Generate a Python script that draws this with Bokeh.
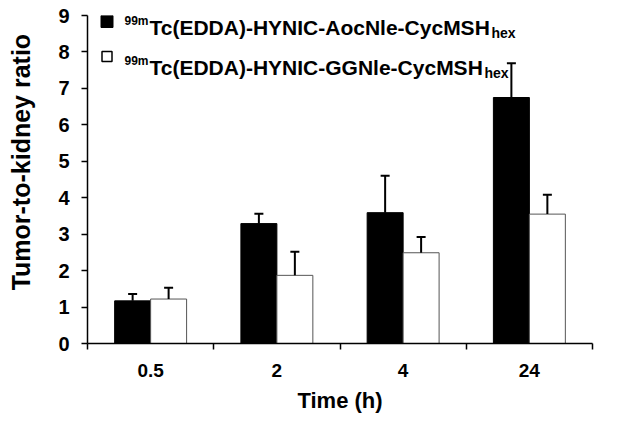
from bokeh.plotting import figure
from bokeh.models import Range1d, FixedTicker, Whisker, TeeHead, ColumnDataSource, Label
from bokeh.embed import file_html
from bokeh.resources import INLINE

# ---- data ----
time_labels = ["0.5", "2", "4", "24"]
aoc_values = [1.17, 3.29, 3.59, 6.75]
aoc_errors = [0.19, 0.27, 1.01, 0.94]
ggn_values = [1.22, 1.87, 2.49, 3.55]
ggn_errors = [0.31, 0.65, 0.43, 0.53]
series_names = ["Tc(EDDA)-HYNIC-AocNle-CycMSH", "Tc(EDDA)-HYNIC-GGNle-CycMSH"]
sup_text = "99m"
sub_text = "hex"
y_title = "Tumor-to-kidney ratio"
x_title = "Time (h)"

FONT = "Liberation Sans"
BAR_W = 0.285

n = len(time_labels)
centers = [i + 0.5 for i in range(n)]
x_aoc = [c - BAR_W / 2 for c in centers]
x_ggn = [c + BAR_W / 2 for c in centers]

FL, FT, FR, FB = 87, 15, 592, 343  # frame edges on the page
W, H = 624, 425

p = figure(width=W, height=H,
           x_range=Range1d(0, n), y_range=Range1d(0, 9),
           output_backend="svg", toolbar_location=None,
           min_border_left=FL, min_border_right=W - FR,
           min_border_top=FT, min_border_bottom=H - FB)
p.outline_line_color = None
p.grid.visible = False
p.background_fill_color = "white"

src_a = ColumnDataSource(dict(x=x_aoc, top=aoc_values,
                              up=[v + e for v, e in zip(aoc_values, aoc_errors)]))
src_g = ColumnDataSource(dict(x=x_ggn, top=ggn_values,
                              up=[v + e for v, e in zip(ggn_values, ggn_errors)]))

p.vbar(x="x", top="top", bottom=0, width=BAR_W, source=src_a,
       fill_color="black", line_color="black", line_width=1)
p.vbar(x="x", top="top", bottom=0, width=BAR_W, source=src_g,
       fill_color="white", line_color="#555555", line_width=1)

for src in (src_a, src_g):
    w = Whisker(base="x", lower="top", upper="up", source=src,
                line_color="black", line_width=2,
                upper_head=TeeHead(size=9, line_color="black", line_width=2),
                lower_head=None, level="glyph")
    p.add_layout(w)

# axes
yax = p.yaxis[0]
yax.ticker = FixedTicker(ticks=list(range(0, 10)))
# leading no-break spaces lift the title slightly above centre, as in the original
yax.axis_label = "\u00a0" * 5 + y_title
yax.axis_label_text_font = FONT
yax.axis_label_text_font_style = "bold"
yax.axis_label_text_font_size = "25px"
yax.axis_label_text_color = "black"
yax.axis_label_standoff = 20
yax.major_label_text_font = FONT
yax.major_label_text_font_style = "bold"
yax.major_label_text_font_size = "20px"
yax.major_label_text_color = "black"
yax.major_label_standoff = 12
yax.major_tick_out = 6
yax.major_tick_in = 0
yax.minor_tick_line_color = None
yax.axis_line_width = 1.5
yax.major_tick_line_width = 1.5
yax.axis_line_color = "black"
yax.major_tick_line_color = "black"

xax = p.xaxis[0]
xax.ticker = FixedTicker(ticks=centers, minor_ticks=list(range(0, n + 1)))
xax.major_label_overrides = {c: lab for c, lab in zip(centers, time_labels)}
xax.major_tick_line_color = None
xax.major_tick_out = 0
xax.major_tick_in = 0
xax.minor_tick_out = 6
xax.minor_tick_in = 0
xax.minor_tick_line_width = 1.5
xax.minor_tick_line_color = "black"
xax.axis_line_width = 1.5
xax.axis_line_color = "black"
xax.axis_label = x_title
xax.axis_label_text_font = FONT
xax.axis_label_text_font_style = "bold"
xax.axis_label_text_font_size = "22px"
xax.axis_label_text_color = "black"
xax.axis_label_standoff = 8
xax.major_label_text_font = FONT
xax.major_label_text_font_style = "bold"
xax.major_label_text_font_size = "19px"
xax.major_label_text_color = "black"
xax.major_label_standoff = 14

PX_X = (FR - FL) / n
PX_Y = (FB - FT) / 9.0
def dx(px):
    return (px - FL) / PX_X
def dy(py):
    return (FB - py) / PX_Y

# legend (manual, for super/subscripts)
p.scatter([dx(106.5)], [dy(21)], marker="square", size=12,
          fill_color="black", line_color="black")
p.scatter([dx(106.5)], [dy(56)], marker="square", size=10,
          fill_color="white", line_color="black", line_width=1.5)

rows = [(27, 491), (67, 484)]
for name, (base, hex_x) in zip(series_names, rows):
    p.add_layout(Label(x=dx(149), y=dy(base), text=name, text_font=FONT,
                       text_font_style="bold", text_font_size="21px",
                       text_color="black",
                       text_baseline="alphabetic", text_align="left"))
    p.add_layout(Label(x=dx(148), y=dy(base - 7), text=sup_text, text_font=FONT,
                       text_font_style="bold", text_font_size="12px",
                       text_color="black",
                       text_baseline="alphabetic", text_align="right"))
    p.add_layout(Label(x=dx(hex_x), y=dy(base + 5), text=sub_text, text_font=FONT,
                       text_font_style="bold", text_font_size="14px",
                       text_color="black",
                       text_baseline="alphabetic", text_align="left"))

open("out.html", "w").write(file_html(p, INLINE))
